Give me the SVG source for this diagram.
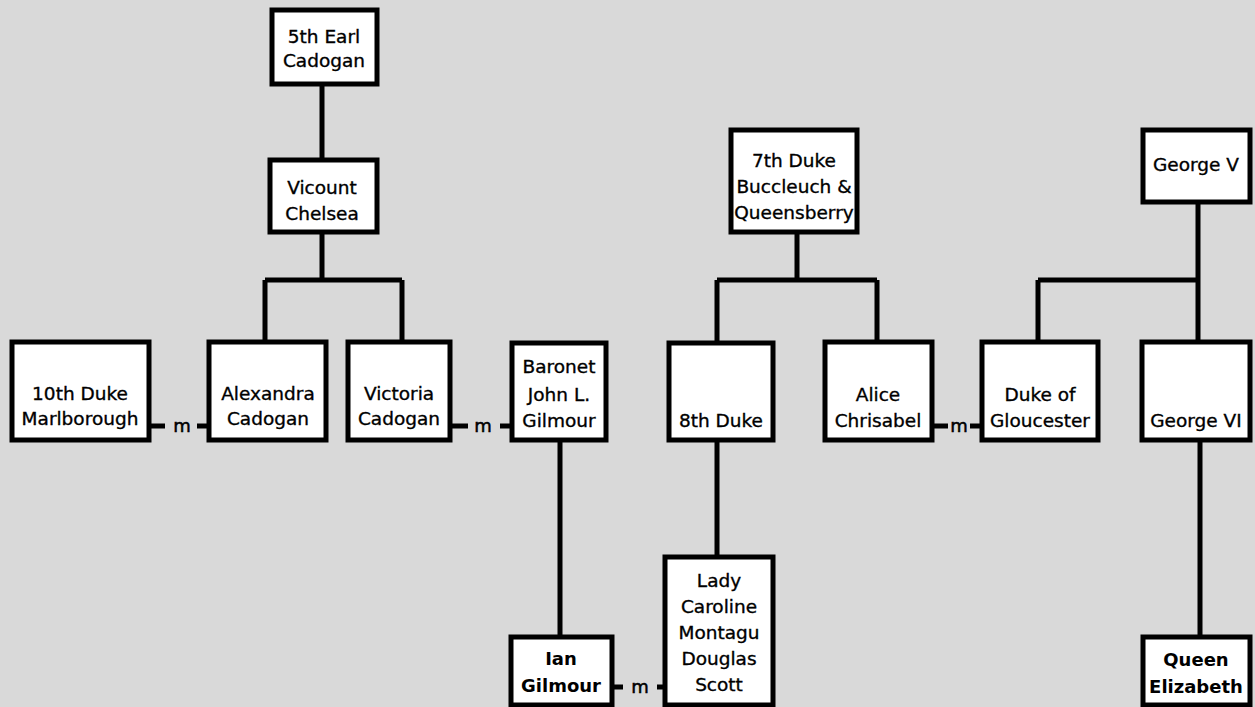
<svg xmlns="http://www.w3.org/2000/svg" width="1255" height="707" viewBox="0 0 1255 707">
<style>
.bg{fill:#d9d9d9}
.box{fill:#ffffff;stroke:#000;stroke-width:5}
.ln{stroke:#000;stroke-width:5;fill:none;stroke-linecap:butt}
.t{font-family:"DejaVu Sans","Liberation Sans",sans-serif;font-size:18.5px;fill:#000;stroke:#000;stroke-width:0.35;text-anchor:middle}
.b{font-weight:bold;font-size:18px;stroke-width:0}
.m{font-family:"DejaVu Sans","Liberation Sans",sans-serif;font-size:18px;fill:#000;stroke:#000;stroke-width:0.5;text-anchor:middle}
</style>
<rect class="bg" x="0" y="0" width="1255" height="707"/>
<g id="connectors">
<path class="ln" d="M322 84V160M322 232V280M265 280H402M265 280V342M402 280V342"/>
<path class="ln" d="M797 232V280M717 280H877M717 280V342M877 280V342"/>
<path class="ln" d="M1198 202V280M1038 280H1200M1038 280V342M1198 280V342"/>
<path class="ln" d="M560 440V637M717 440V557M1200 440V637"/>
<path class="ln" d="M149 426H165M197 426H209M450 426H468M500 426H512M932 426H948M970 426H982M612 687H623M657 687H665"/>
<text class="m" x="182" y="432">m</text>
<text class="m" x="483" y="432">m</text>
<text class="m" x="959" y="432">m</text>
<text class="m" x="640" y="693">m</text>
</g>
<g id="earl5"><rect class="box" x="272" y="10" width="105" height="74"/><text class="t" x="324" y="43">5th Earl</text><text class="t" x="324" y="67">Cadogan</text></g>
<g id="chelsea"><rect class="box" x="270" y="160" width="107" height="72"/><text class="t" x="322" y="194">Vicount</text><text class="t" x="322" y="220">Chelsea</text></g>
<g id="marlborough"><rect class="box" x="12" y="342" width="137" height="98"/><text class="t" x="80" y="400">10th Duke</text><text class="t" x="80" y="425">Marlborough</text></g>
<g id="alexandra"><rect class="box" x="209" y="342" width="117" height="98"/><text class="t" x="268" y="400">Alexandra</text><text class="t" x="268" y="425">Cadogan</text></g>
<g id="victoria"><rect class="box" x="348" y="342" width="102" height="98"/><text class="t" x="399" y="400">Victoria</text><text class="t" x="399" y="425">Cadogan</text></g>
<g id="baronet"><rect class="box" x="512" y="343" width="94" height="97"/><text class="t" x="559" y="373">Baronet</text><text class="t" x="559" y="401">John L.</text><text class="t" x="559" y="427">Gilmour</text></g>
<g id="duke7"><rect class="box" x="731" y="130" width="126" height="102"/><text class="t" x="794" y="167">7th Duke</text><text class="t" x="794" y="193">Buccleuch &amp;</text><text class="t" x="794" y="219">Queensberry</text></g>
<g id="duke8"><rect class="box" x="669" y="343" width="104" height="97"/><text class="t" x="721" y="427">8th Duke</text></g>
<g id="alice"><rect class="box" x="825" y="342" width="107" height="98"/><text class="t" x="878" y="401">Alice</text><text class="t" x="878" y="427">Chrisabel</text></g>
<g id="gloucester"><rect class="box" x="982" y="342" width="116" height="98"/><text class="t" x="1040" y="401">Duke of</text><text class="t" x="1040" y="427">Gloucester</text></g>
<g id="george5"><rect class="box" x="1143" y="130" width="107" height="72"/><text class="t" x="1196" y="171">George V</text></g>
<g id="george6"><rect class="box" x="1142" y="342" width="108" height="98"/><text class="t" x="1196" y="427">George VI</text></g>
<g id="caroline"><rect class="box" x="665" y="557" width="108" height="148"/><text class="t" x="719" y="587">Lady</text><text class="t" x="719" y="613">Caroline</text><text class="t" x="719" y="639">Montagu</text><text class="t" x="719" y="665">Douglas</text><text class="t" x="719" y="691">Scott</text></g>
<g id="ian"><rect class="box" x="511" y="637" width="101" height="68"/><text class="t b" x="561" y="665">Ian</text><text class="t b" x="561" y="692">Gilmour</text></g>
<g id="queen"><rect class="box" x="1143" y="637" width="107" height="68"/><text class="t b" x="1196" y="666">Queen</text><text class="t b" x="1196" y="693">Elizabeth</text></g>
</svg>
